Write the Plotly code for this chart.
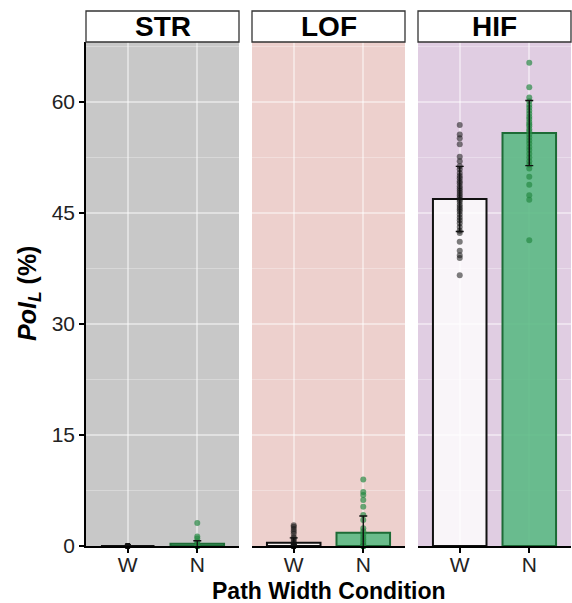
import plotly.graph_objects as go

# ---- data -------------------------------------------------------------
facets = ["STR", "LOF", "HIF"]
conditions = ["W", "N"]

# per-facet mean and SD for each condition (W, N)
means = {"STR": [0.0, 0.3], "LOF": [0.45, 1.8], "HIF": [46.9, 55.8]}
sds = {"STR": [0.0, 0.4], "LOF": [0.65, 2.25], "HIF": [4.4, 4.4]}

# individual participant values
str_w = [0.0, 0.0, 0.0, 0.0, 0.0, 0.0, 0.0, 0.0, 0.0, 0.0, 0.0, 0.0]
str_n = [3.1, 1.3, 1.0, 0.6, 0.3, 0.0, 0.0, 0.0, 0.0, 0.0, 0.0, 0.0]
lof_w = [2.8, 2.6, 2.3, 2.0, 1.7, 1.2, 1.0, 0.8, 0.5, 0.3,
         0.0, 0.0, 0.0, 0.0, 0.0, 0.0, 0.0, 0.0, 0.0, 0.0]
lof_n = [9.0, 7.3, 6.9, 6.2, 5.3, 4.2, 3.5, 2.4, 2.0, 1.6, 1.2, 0.9,
         0.6, 0.3, 0.0, 0.0, 0.0, 0.0, 0.0, 0.0]
hif_w = [56.9, 55.6, 55.1, 54.3, 52.6, 52.0, 51.3, 50.9, 50.4, 50.0,
         49.7, 49.3, 49.0, 48.6, 48.3, 48.0, 47.7, 47.4, 47.1, 46.8,
         46.5, 46.1, 45.8, 45.5, 45.2, 44.8, 44.4, 44.0, 43.6, 43.1,
         42.6, 42.3, 41.1, 39.9, 39.3, 38.9, 36.6]
hif_n = [65.3, 62.0, 60.6, 60.1, 59.6, 59.2, 58.8, 58.4, 58.0, 57.7,
         57.3, 57.0, 56.7, 56.3, 56.0, 55.6, 55.2, 54.8, 54.4, 53.9,
         53.5, 53.0, 52.5, 52.0, 51.5, 51.0, 49.9, 48.8, 47.4, 46.8, 41.3]

points = {"STR": (str_w, str_n), "LOF": (lof_w, lof_n), "HIF": (hif_w, hif_n)}

y_ticks = [0, 15, 30, 45, 60]
y_minor = [7.5, 22.5, 37.5, 52.5, 67.5]

# ---- styling ----------------------------------------------------------
FONT = "Liberation Sans, Arial, sans-serif"
panel_bg = {"STR": "rgb(200,200,200)", "LOF": "rgb(237,208,205)", "HIF": "rgb(224,205,226)"}
bar_fill = ["rgba(255,255,255,0.80)", "rgba(88,184,130,0.88)"]
bar_line = ["#111111", "#1d6b36"]
dot_col = ["rgba(20,20,20,0.55)", "rgba(35,135,65,0.68)"]

W, H = 572, 603
m_l, m_r, m_t, m_b = 86, 0, 42, 57
plot_w = W - m_l - m_r
plot_h = H - m_t - m_b
panel_px, gap_px = 153, 13
domains = []
for i in range(3):
    a = i * (panel_px + gap_px)
    domains.append([a / plot_w, min(1.0, (a + panel_px) / plot_w)])

fig = go.Figure()
shapes, annotations = [], []
grid_major = "rgba(255,255,255,0.45)"
grid_minor = "rgba(255,255,255,0.30)"

for i, f in enumerate(facets):
    xa = "x" if i == 0 else f"x{i+1}"
    for j, c in enumerate(conditions):
        fig.add_trace(go.Bar(
            x=[c], y=[means[f][j]], xaxis=xa, yaxis="y", width=0.77,
            marker=dict(color=bar_fill[j], line=dict(color=bar_line[j], width=2)),
            showlegend=False, hoverinfo="skip"))
    for j, c in enumerate(conditions):
        vals = points[f][j]
        fig.add_trace(go.Scatter(
            x=[c] * len(vals), y=vals, xaxis=xa, yaxis="y", mode="markers",
            marker=dict(size=6, color=dot_col[j], line=dict(width=0)),
            cliponaxis=False, showlegend=False, hoverinfo="skip"))
    for j, c in enumerate(conditions):
        fig.add_trace(go.Scatter(
            x=[c], y=[means[f][j]], xaxis=xa, yaxis="y", mode="markers",
            marker=dict(size=1, color="rgba(0,0,0,0)"),
            error_y=dict(type="data", array=[sds[f][j]], visible=True,
                         color="#111111", thickness=1.4, width=4),
            cliponaxis=False, showlegend=False, hoverinfo="skip"))

    xref = "x domain" if i == 0 else f"x{i+1} domain"
    shapes.append(dict(type="rect", xref=xref, yref="y domain", x0=0, x1=1, y0=0, y1=1,
                       fillcolor=panel_bg[f], line=dict(width=0), layer="below"))
    shapes.append(dict(type="rect", xref=xref, yref="y domain", x0=0, x1=1,
                       y0=1.0, y1=1 + 31 / plot_h,
                       fillcolor="white", line=dict(color="#333333", width=1.3)))
    annotations.append(dict(text=f"<b>{f}</b>", xref=xref, yref="y domain", x=0.5,
                            y=1 + 15.5 / plot_h, showarrow=False,
                            font=dict(family=FONT, size=28, color="black"),
                            xanchor="center", yanchor="middle"))

    axis = dict(domain=domains[i], anchor="y", type="category",
                categoryorder="array", categoryarray=conditions,
                range=[-0.6, 1.6], showgrid=True, gridcolor=grid_major, gridwidth=1.5,
                showline=True, linecolor="black", linewidth=1.5,
                ticks="outside", ticklen=5, tickwidth=1.5, tickcolor="black",
                ticklabelstandoff=-6,
                tickfont=dict(family=FONT, size=21, color="#222222"),
                zeroline=False, fixedrange=True)
    fig.layout["xaxis" if i == 0 else f"xaxis{i+1}"] = axis

fig.update_layout(
    yaxis=dict(anchor="x", range=[0, 68.1], tickvals=y_ticks,
               showgrid=True, gridcolor=grid_major, gridwidth=1.5,
               minor=dict(tickvals=y_minor, showgrid=True, gridcolor=grid_minor,
                          gridwidth=1, ticks=""),
               showline=True, linecolor="black", linewidth=1.5,
               ticks="outside", ticklen=5, tickwidth=1.5, tickcolor="black",
               tickfont=dict(family=FONT, size=21, color="#222222"),
               zeroline=False, fixedrange=True),
    barmode="overlay",
    width=W, height=H,
    margin=dict(l=m_l, r=m_r, t=m_t, b=m_b),
    paper_bgcolor="white", plot_bgcolor="white",
    shapes=shapes,
    annotations=annotations + [
        dict(text="<b>Path Width Condition</b>", xref="paper", yref="paper",
             x=0.5, y=-(591 - 546) / plot_h, showarrow=False,
             xanchor="center", yanchor="middle",
             font=dict(family=FONT, size=23, color="black")),
        dict(text="<b><i>PoI</i></b><sub><b><i>L</i></b></sub><b> (%)</b>",
             xref="paper", yref="paper",
             x=-(m_l - 29) / plot_w, y=0.5, textangle=-90, showarrow=False,
             xanchor="center", yanchor="middle",
             font=dict(family=FONT, size=25, color="black")),
    ],
)

fig.write_html("out.html")
